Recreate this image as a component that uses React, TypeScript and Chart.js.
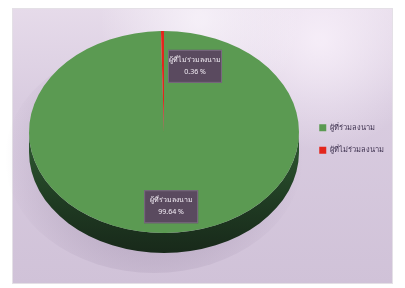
import React, { useEffect, useRef } from "react";
import { Chart, registerables } from "chart.js";

Chart.register(...registerables);

const categories = ["ผู้ที่ร่วมลงนาม", "ผู้ที่ไม่ร่วมลงนาม"];
const values = [99.64, 0.36];
const percentLabels = ["99.64 %", "0.36 %"];
const sliceColors = ["#5b9a52", "#e3261c"];

const FONT = "'Noto Sans', 'DejaVu Sans', sans-serif";

// geometry of the tilted (3D-looking) pie
const PIE = { cx: 164, cy: 132, rx: 135, ry: 101, depth: 20 };

const backgroundPlugin = {
  id: "panelBg",
  beforeDraw(chart: any) {
    const { ctx, width, height } = chart;
    ctx.save();
    ctx.fillStyle = "#ffffff";
    ctx.fillRect(0, 0, width, height);
    const x0 = 12, y0 = 8, x1 = 393, y1 = 284;
    const g = ctx.createLinearGradient(0, y0, 0, y1);
    g.addColorStop(0, "#e6dbea");
    g.addColorStop(0.35, "#d9cce0");
    g.addColorStop(1, "#d0c2d8");
    ctx.fillStyle = g;
    ctx.fillRect(x0, y0, x1 - x0, y1 - y0);
    const rg = ctx.createRadialGradient(320, 40, 5, 320, 40, 110);
    rg.addColorStop(0, "rgba(248,240,250,0.85)");
    rg.addColorStop(1, "rgba(248,240,250,0)");
    ctx.fillStyle = rg;
    ctx.fillRect(x0, y0, x1 - x0, y1 - y0);
    const rg2 = ctx.createRadialGradient(200, 20, 5, 200, 20, 100);
    rg2.addColorStop(0, "rgba(250,246,252,0.75)");
    rg2.addColorStop(1, "rgba(250,246,252,0)");
    ctx.fillStyle = rg2;
    ctx.fillRect(x0, y0, x1 - x0, y1 - y0);
    ctx.strokeStyle = "#e4e0e6";
    ctx.lineWidth = 1;
    ctx.strokeRect(x0 + 0.5, y0 + 0.5, x1 - x0 - 1, y1 - y0 - 1);
    ctx.restore();
  },
};

const tiltPlugin = {
  id: "tilt",
  beforeDatasetsDraw(chart: any) {
    const { ctx } = chart;
    const arc = chart.getDatasetMeta(0).data[0];
    if (!arc) return;
    const { x, y, outerRadius } = arc.getProps(["x", "y", "outerRadius"], true);
    // soft shadow
    ctx.save();
    const sh = ctx.createRadialGradient(PIE.cx - 10, PIE.cy + PIE.depth + 6, 40, PIE.cx - 10, PIE.cy + PIE.depth + 6, PIE.rx + 14);
    sh.addColorStop(0, "rgba(110,90,125,0.35)");
    sh.addColorStop(1, "rgba(110,90,125,0)");
    ctx.fillStyle = sh;
    ctx.beginPath();
    ctx.ellipse(PIE.cx - 10, PIE.cy + PIE.depth + 6, PIE.rx + 14, PIE.ry + 14, 0, 0, Math.PI * 2);
    ctx.fill();
    // side wall
    const sg = ctx.createLinearGradient(0, PIE.cy, 0, PIE.cy + PIE.ry + PIE.depth);
    sg.addColorStop(0, "#2f5a32");
    sg.addColorStop(0.6, "#1f3a22");
    sg.addColorStop(1, "#18291a");
    ctx.fillStyle = sg;
    ctx.beginPath();
    ctx.ellipse(PIE.cx, PIE.cy + PIE.depth, PIE.rx, PIE.ry, 0, 0, Math.PI);
    ctx.lineTo(PIE.cx - PIE.rx, PIE.cy);
    ctx.ellipse(PIE.cx, PIE.cy, PIE.rx, PIE.ry, 0, Math.PI, 0, true);
    ctx.closePath();
    ctx.fill();
    ctx.restore();
    ctx.save();
    ctx.translate(PIE.cx, PIE.cy);
    ctx.scale(PIE.rx / outerRadius, PIE.ry / outerRadius);
    ctx.translate(-x, -y);
  },
  afterDatasetsDraw(chart: any) {
    const { ctx } = chart;
    ctx.restore();
    const meta = chart.getDatasetMeta(0);
    const total = values.reduce((a, b) => a + b, 0);
    meta.data.forEach((el: any, i: number) => {
      const { startAngle, endAngle } = el.getProps(["startAngle", "endAngle"], true);
      const mid = (startAngle + endAngle) / 2;
      const small = values[i] / total < 0.05;
      const f = small ? 0.65 : 0.74;
      const ax = PIE.cx + Math.cos(mid) * PIE.rx * f;
      const ay = PIE.cy + Math.sin(mid) * PIE.ry * f;
      const w = 54, h = 33;
      const bx = small ? ax + 5 : ax + 6 - w / 2;
      const by = ay - h / 2;
      ctx.save();
      ctx.fillStyle = "#5a4a5f";
      ctx.fillRect(bx, by, w, h);
      ctx.strokeStyle = "#7a6a80";
      ctx.lineWidth = 1;
      ctx.strokeRect(bx + 0.5, by + 0.5, w - 1, h - 1);
      ctx.fillStyle = "#f4eef6";
      ctx.textAlign = "center";
      ctx.textBaseline = "middle";
      ctx.font = `7px ${FONT}`;
      ctx.fillText(categories[i], bx + w / 2, by + 10);
      ctx.fillText(percentLabels[i], bx + w / 2, by + 22);
      ctx.restore();
    });
  },
};

export default function App() {
  const ref = useRef<HTMLCanvasElement | null>(null);
  useEffect(() => {
    if (!ref.current) return;
    const chart = new Chart(ref.current, {
      type: "pie",
      data: {
        labels: categories,
        datasets: [
          {
            data: values,
            backgroundColor: sliceColors,
            borderWidth: 0,
          },
        ],
      },
      options: {
        animation: false,
        responsive: false,
        maintainAspectRatio: false,
        layout: { padding: { top: 12, bottom: 22, left: 20, right: 11 } },
        plugins: {
          tooltip: { enabled: false },
          legend: {
            position: "right",
            labels: {
              boxWidth: 7,
              boxHeight: 7,
              padding: 15,
              color: "#3f3350",
              font: { size: 7.5, family: FONT },
            },
          },
        },
      },
      plugins: [backgroundPlugin, tiltPlugin],
    });
    return () => chart.destroy();
  }, []);
  return (
    <div style={{ position: "fixed", left: 0, top: 0, width: 405, height: 288 }}>
      <canvas ref={ref} width={405} height={288} style={{ display: "block" }} />
    </div>
  );
}
